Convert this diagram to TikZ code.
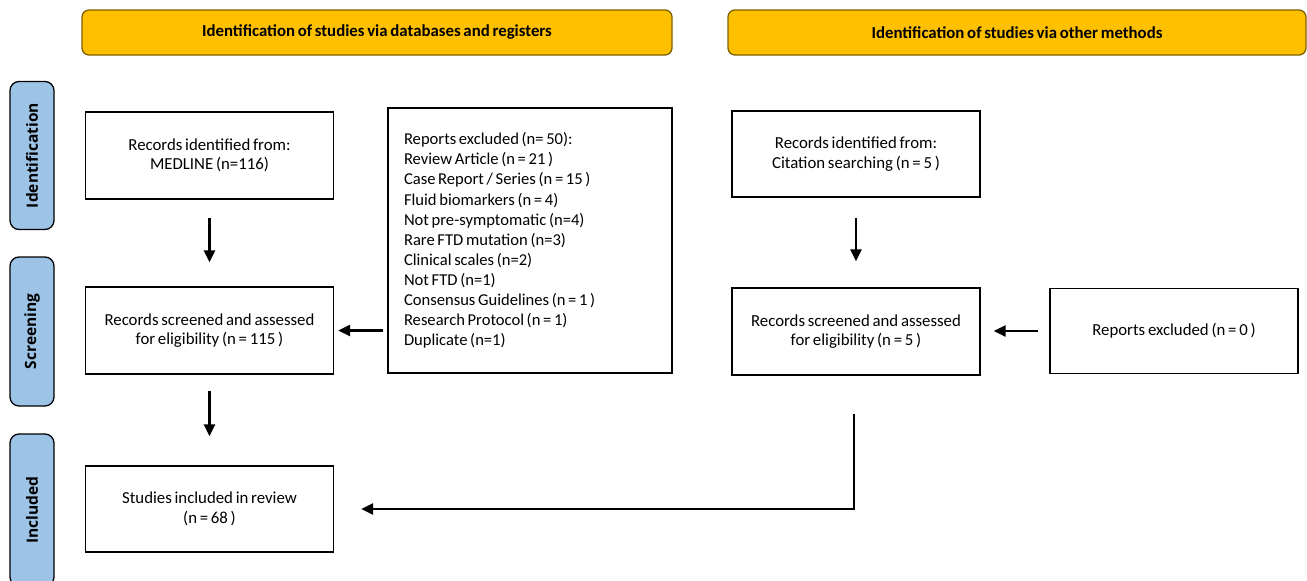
\documentclass[tikz,border=0pt]{standalone}
\usepackage{fontspec}
\setmainfont[WordSpace=0.72]{Carlito}
\newfontfamily\phasefont{Open Sans}
\usetikzlibrary{arrows.meta}

\definecolor{hdrfill}{HTML}{FFC000}
\definecolor{hdrline}{HTML}{7F6000}
\definecolor{phasefill}{HTML}{9DC3E6}

\tikzset{
	header/.style={draw=hdrline, fill=hdrfill, line width=1.3pt, rounded corners=7pt,
		minimum height=45pt, inner sep=0pt, font=\fontsize{16.8}{20}\selectfont\bfseries},
	phase/.style={draw=black, fill=phasefill, line width=1.3pt, rounded corners=9pt,
		rotate=90, minimum height=44pt, inner sep=0pt,
		font=\phasefont\fontsize{15.5}{18}\selectfont\bfseries},
	recbox/.style={draw, line width=1.4pt, minimum width=248pt, minimum height=87pt,
		inner sep=0pt, align=center, font=\fontsize{16.8}{19.5}\selectfont},
	flow/.style={-{Triangle[length=12pt,width=11pt]}, line width=2.4pt}
}

\begin{document}
\begin{tikzpicture}[x=1pt, y=-1pt]
			\useasboundingbox (0, 0) rectangle (1307, 581);
			\clip (0, 0) rectangle (1307, 581);

			% headers
			\node[header, minimum width=590pt] (hdrdb) at (377, 32.5)
				{Identification of studies via databases and registers};
			\node[header, minimum width=578pt] (hdrother) at (1017, 32.5)
				{Identification of studies via other methods};

			% phases
			\node[phase, minimum width=148pt] (phid) at (32, 155.5)
				{Identification};
			\node[phase, minimum width=149pt] (phscr) at (32, 331.5)
				{Screening};
			\node[phase, minimum width=152pt] (phinc) at (32, 510)
				{Included};

			% databases and registers
			\node[recbox] (idA) at (209.5, 155.5)
				{Records identified from:\\MEDLINE (n=116)};
			\node[recbox] (scrA) at (209.5, 330.5)
				{Records screened and assessed\\for eligibility (n = 115 )};
			\node[recbox, minimum height=86pt] (incA) at (209.5, 509)
				{Studies included in review\\(n = 68 )};
			\node[recbox, minimum width=284pt, minimum height=265pt, text width=252pt,
				inner xsep=16pt, align=flush left, font=\fontsize{16.6}{20.1}\selectfont] (exclA) at (530, 240.5)
				{\spaceskip=0.16em plus 0.05em\relax
				Reports excluded (n= 50):\\
				Review Article (n = 21 )\\
				Case Report / Series (n = 15 )\\
				Fluid biomarkers (n = 4)\\
				Not pre-symptomatic (n=4)\\
				Rare FTD mutation (n=3)\\
				Clinical scales (n=2)\\
				Not FTD (n=1)\\
				Consensus Guidelines (n = 1 )\\
				Research Protocol (n = 1)\\
				Duplicate (n=1)};

			% other methods
			\node[recbox, minimum height=86pt] (idB) at (856, 154)
				{Records identified from:\\Citation searching (n = 5 )};
			\node[recbox] (scrB) at (856, 331.5)
				{Records screened and assessed\\for eligibility (n = 5 )};
			\node[recbox, minimum height=85pt] (exclB) at (1174, 331)
				{Reports excluded (n = 0 )};

			% arrows
			\draw[flow, shorten <=18pt, shorten >=24pt]
				(idA) -- (scrA);
			\draw[flow, shorten <=16pt, shorten >=29pt]
				(scrA) -- (incA);
			\draw[flow, shorten <=4pt, shorten >=4pt]
				(exclA.west |- scrA.east) -- (scrA.east);
			\draw[flow, shorten <=20pt, shorten >=26pt]
				(idB) -- (scrB);
			\draw[flow, shorten <=11pt, shorten >=13pt]
				(exclB.west) -- (exclB.west -| scrB.east);
			\draw[flow, line width=2.8pt, shorten >=27pt]
				([xshift=-2pt, yshift=-38pt]scrB.south) |- (incA.east);

		\end{tikzpicture}
\end{document}
